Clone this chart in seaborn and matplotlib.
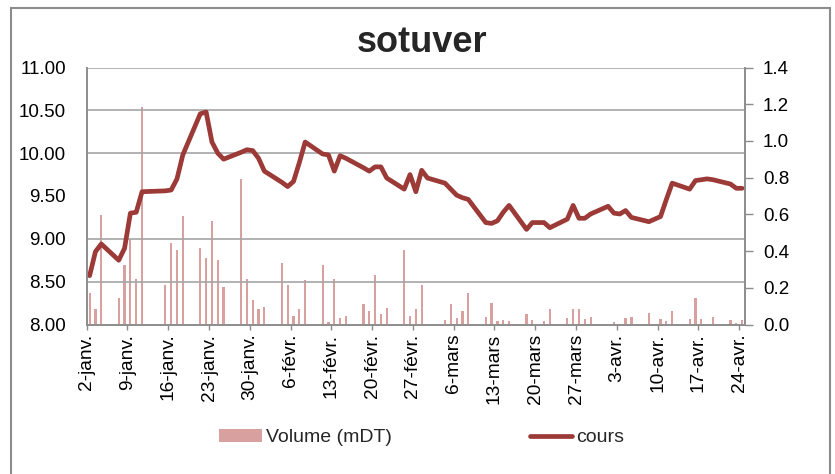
import numpy as np
import pandas as pd
import seaborn as sns
import matplotlib.pyplot as plt
from matplotlib.patches import Rectangle, Patch
from matplotlib.lines import Line2D
from matplotlib.ticker import FormatStrFormatter

# trading days (Tunis bourse), weekends and holidays removed
holidays = ["2019-01-14", "2019-03-20", "2019-04-09"]
dates = pd.bdate_range("2019-01-02", "2019-04-24").difference(pd.to_datetime(holidays))

cours = [8.57, 8.85, 8.94, 8.75, 8.89, 9.30, 9.31, 9.55, 9.56, 9.57, 9.70, 9.98,
         10.46, 10.48, 10.13, 10.00, 9.93, 10.01, 10.04, 10.03, 9.94,
         9.79, 9.66, 9.61, 9.67, 9.89, 10.13, 9.99, 9.98, 9.79, 9.97, 9.94,
         9.83, 9.79, 9.84, 9.84, 9.71, 9.58, 9.75, 9.55, 9.80,
         9.71, 9.65, 9.58, 9.51, 9.48, 9.46, 9.19, 9.18, 9.21, 9.31, 9.39,
         9.11, 9.19, 9.19, 9.13, 9.23, 9.39, 9.24, 9.24, 9.29,
         9.38, 9.30, 9.29, 9.33, 9.25, 9.20, 9.26, 9.46, 9.65, 9.58, 9.68,
         9.69, 9.70, 9.69, 9.64, 9.59, 9.59]

volume = [0.173, 0.082, 0.598, 0.142, 0.324, 0.465, 0.246, 1.185, 0.215, 0.443, 0.406, 0.590,
          0.419, 0.363, 0.565, 0.350, 0.202, 0.793, 0.246, 0.131, 0.087,
          0.097, 0.334, 0.215, 0.044, 0.082, 0.240, 0.324, 0.013, 0.246, 0.033, 0.044,
          0.109, 0.073, 0.270, 0.055, 0.091, 0.406, 0.049, 0.082, 0.215,
          0.005, 0.024, 0.109, 0.036, 0.073, 0.173, 0.042, 0.117, 0.018, 0.024, 0.018,
          0.055, 0.024, 0.018, 0.086, 0.036, 0.082, 0.082, 0.031, 0.040,
          0.0, 0.013, 0.005, 0.036, 0.042, 0.060, 0.031, 0.018, 0.073, 0.031, 0.142,
          0.031, 0.005, 0.042, 0.027, 0.009, 0.024]

tick_labels = ["2-janv.", "9-janv.", "16-janv.", "23-janv.", "30-janv.", "6-févr.",
               "13-févr.", "20-févr.", "27-févr.", "6-mars", "13-mars", "20-mars",
               "27-mars", "3-avr.", "10-avr.", "17-avr.", "24-avr."]

LINE = "#9B3A37"
BAR = "#D9A0A0"
GRID = "#A6A6A6"
AXC = "#8C8C8C"

sns.set_theme(style="white")
plt.rcParams['font.family'] = ['Liberation Sans', 'DejaVu Sans']

df = pd.DataFrame({"date": dates + pd.Timedelta(hours=12), "cours": cours, "volume": volume})

fig = plt.figure(figsize=(8.35, 4.74), dpi=100)
ax = fig.add_axes([86.7 / 835, 1 - 324.5 / 474, (745 - 86.7) / 835, (324.5 - 67.5) / 474])
ax2 = ax.twinx()
ax.set_zorder(2)
ax2.set_zorder(1)
ax.patch.set_visible(False)

ax2.bar(df["date"], df["volume"], width=0.38, color=BAR, linewidth=0)
sns.lineplot(data=df, x="date", y="cours", ax=ax, color=LINE, linewidth=3.4)

for v in [8.0, 8.5, 9.0, 10.0, 10.5, 11.0]:
    ax.axhline(v, color=GRID, lw=1.2, zorder=0)

ax.set_xlim(pd.Timestamp("2019-01-02"), pd.Timestamp("2019-04-25"))
ax.set_ylim(8, 11)
ax.set_yticks(np.arange(8, 11.01, 0.5))
ax.yaxis.set_major_formatter(FormatStrFormatter('%.2f'))
ax2.set_ylim(0, 1.4)
ax2.set_yticks(np.arange(0, 1.41, 0.2))
ax2.yaxis.set_major_formatter(FormatStrFormatter('%.1f'))

tick_dates = pd.date_range("2019-01-02", periods=len(tick_labels), freq="7D")
ax.set_xticks(tick_dates)
ax.set_xticklabels(tick_labels, rotation=90, ha='center', va='top')
ax.set_xlabel("")
ax.set_ylabel("")

ax.tick_params(axis='y', length=0, pad=15, labelsize=13.5, colors='black')
ax2.tick_params(axis='y', length=5.8, width=1, color=AXC, pad=7, labelsize=13.5, labelcolor='black')
ax.tick_params(axis='x', length=3.6, width=1, color=AXC, pad=3, labelsize=13.8, labelcolor='black', bottom=True)

for a in (ax, ax2):
    a.spines['top'].set_visible(False)
    for s in ('left', 'right', 'bottom'):
        a.spines[s].set_color(AXC)
        a.spines[s].set_linewidth(1.2)

fig.text(422 / 835, 1 - 52 / 474, "sotuver", ha='center', va='baseline',
         fontsize=26, fontweight='bold')

handles = [Patch(facecolor=BAR, edgecolor='none'), Line2D([], [], color=LINE, lw=3.4)]
fig.legend(handles, ["Volume (mDT)", "cours"], loc='center', bbox_to_anchor=(0.505, 0.077),
           ncol=2, frameon=False, fontsize=14, handlelength=2.2, handleheight=0.65,
           handletextpad=0.2, columnspacing=7.1)

fig.patches.append(Rectangle((11 / 835, -0.05), 819 / 835, (474 - 8) / 474 + 0.05,
                             transform=fig.transFigure, fill=False, edgecolor=AXC, lw=1.5))

fig.savefig("out.png", dpi=100)
